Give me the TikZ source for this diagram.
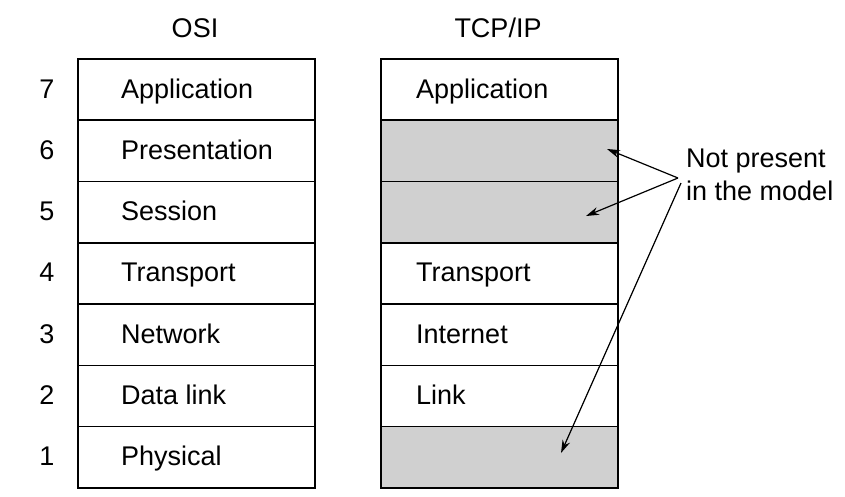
\documentclass[tikz,border=0pt]{standalone}
\usepackage{fontspec}
\setmainfont{Liberation Sans}
\usetikzlibrary{arrows.meta}
\definecolor{cellgray}{HTML}{D0D0D0}
\begin{document}
\begin{tikzpicture}[x=1pt,y=-1pt,
  every node/.style={font=\fontsize{27}{33}\selectfont, inner sep=0pt},
  cell/.style={draw, line width=1.6pt, minimum width=237pt, minimum height=61.3pt, anchor=north west},
  shaded/.style={cell, fill=cellgray},
  lbl/.style={anchor=base west},
  arr/.style={line width=1.2pt, -{Stealth[length=13pt,width=8pt]}}]
\useasboundingbox (0,0) rectangle (845,496);
% headers
\node (hosi) at (195,28) {OSI};
\node (htcp) at (498,28) {TCP/IP};
% OSI column
\foreach \n/\t [count=\i from 0] in {7/Application,6/Presentation,5/Session,4/Transport,3/Network,2/Data link,1/Physical}{
  \node[cell] (o\n) at (77,{58+61.3*\i}) {};
  \node[lbl] (ot\n) at (121,{58+61.3*\i+40}) {\t};
  \node[anchor=base] (num\n) at (47,{58+61.3*\i+40}) {\n};
}
% TCP/IP column
\node[cell] (t7) at (380,58) {};
\node[shaded] (t6) at (380,{58+61.3}) {};
\node[shaded] (t5) at (380,{58+61.3*2}) {};
\node[cell] (t4) at (380,{58+61.3*3}) {};
\node[cell] (t3) at (380,{58+61.3*4}) {};
\node[cell] (t2) at (380,{58+61.3*5}) {};
\node[shaded] (t1) at (380,{58+61.3*6}) {};
\node[lbl] (tt7) at (416,{58+40}) {Application};
\node[lbl] (tt4) at (416,{58+61.3*3+40}) {Transport};
\node[lbl] (tt3) at (416,{58+61.3*4+40}) {Internet};
\node[lbl] (tt2) at (416,{58+61.3*5+40}) {Link};
% note
\node[anchor=north west, align=left] (note) at (686,149) {Not present\\in the model};
\coordinate (s1) at (678,178);
\coordinate (s3) at (681,183);
\coordinate (e1) at (607,149);
\coordinate (e2) at (586,216);
\coordinate (e3) at (561,453);
\draw[arr] (s1) -- (e1);
\draw[arr] (s1) -- (e2);
\draw[arr] (s3) -- (e3);
\end{tikzpicture}
\end{document}
